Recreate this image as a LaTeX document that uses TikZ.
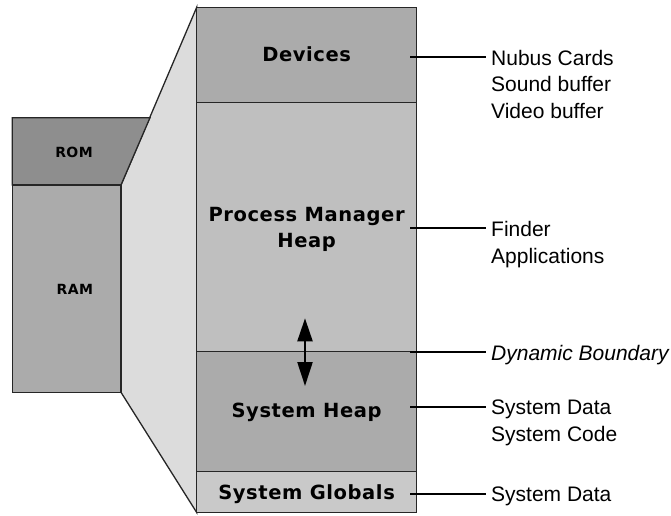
\documentclass[tikz,border=0pt]{standalone}
\usepackage{fontspec}
\setmainfont{Liberation Sans}
\newfontfamily\chifont[LetterSpace=3]{DejaVu Sans Bold}
\usetikzlibrary{arrows.meta}

\definecolor{romgray}{HTML}{8E8E8E}
\definecolor{midgray}{HTML}{ABABAB}
\definecolor{pmgray}{HTML}{BFBFBF}
\definecolor{globgray}{HTML}{C9C9C9}
\definecolor{funnel}{HTML}{DCDCDC}
\definecolor{edgecol}{HTML}{262626}

\begin{document}
\begin{tikzpicture}[x=1pt,y=-1pt,
  region/.style={draw=edgecol,line width=1.3pt,line join=miter},
  memtext/.style={font=\chifont\fontsize{19.5}{22}\selectfont,inner sep=0pt,
    text height=14.2pt,text depth=0pt,anchor=center},
  smalltext/.style={font=\chifont\fontsize{14}{16}\selectfont,inner sep=0pt,
    text height=10.2pt,text depth=0pt,anchor=center},
  lbl/.style={font=\fontsize{21}{26}\selectfont,anchor=west,inner sep=0pt,
    text height=15pt,text depth=0pt},
  leader/.style={draw=black,line width=2pt}]
\useasboundingbox (0,0) rectangle (671,515);

% funnel joining the RAM block to the enlarged memory map
\path[region,fill=funnel] (121,185) -- (196.7,7.3) -- (196.7,512.5) -- (121,392.3) -- cycle;

% ROM / RAM column
\path[region,fill=romgray] (12.3,117.7) -- (150,117.7) -- (121,185) -- (12.3,185) -- cycle;
\path[region,fill=midgray] (12.3,185) rectangle (121,392.3);

% enlarged memory map
\path[region,fill=midgray] (196.7,7.3) rectangle (416.5,102.7);
\path[region,fill=pmgray] (196.7,102.7) rectangle (416.5,351.7);
\path[region,fill=midgray] (196.7,351.7) rectangle (416.5,471.7);
\path[region,fill=globgray] (196.7,471.7) rectangle (416.5,512.5);

\node[smalltext] (rom) at (74,152.5) {ROM};
\node[smalltext] (ram) at (74.8,289) {RAM};

\node[memtext] (devices) at (306.6,54.2) {Devices};
\node[memtext] (pmh1) at (306.6,214) {Process Manager};
\node[memtext] (pmh2) at (306.6,240) {Heap};
\node[memtext] (sysheap) at (306.6,410.5) {System Heap};
\node[memtext] (sysglob) at (306.6,492.5) {System Globals};

% movable boundary between the two heaps
\coordinate (arrTop) at (305,318.3);
\coordinate (arrBot) at (305,386);
\draw[line width=2.2pt,{Triangle[width=15pt,length=23pt]}-{Triangle[width=15pt,length=24pt]}]
  (arrTop) -- (arrBot);

% right-hand labels
\node[lbl] (nubus) at (491,57.5) {Nubus Cards};
\node[lbl] (sound) at (491,84) {Sound buffer};
\node[lbl] (video) at (491,110.5) {Video buffer};
\node[lbl] (finder) at (491,228.5) {Finder};
\node[lbl] (apps) at (491,255.5) {Applications};
\node[lbl,font=\fontsize{21}{26}\selectfont\itshape] (dynb) at (491,352.5) {Dynamic Boundary};
\node[lbl] (sdata) at (491,407) {System Data};
\node[lbl] (scode) at (491,433.5) {System Code};
\node[lbl] (gdata) at (491,494) {System Data};

% leader lines from the map to the labels
\coordinate (devR) at (410,57.3);
\coordinate (pmhR) at (410,227.7);
\coordinate (dynR) at (410,352);
\coordinate (shR) at (410,406.7);
\coordinate (sgR) at (410,494);
\draw[leader] (devR) -- ([xshift=-5pt]devR -| nubus.west);
\draw[leader] (pmhR) -- ([xshift=-5pt]pmhR -| finder.west);
\draw[leader] (dynR) -- ([xshift=-5pt]dynR -| dynb.west);
\draw[leader] (shR) -- ([xshift=-5pt]shR -| sdata.west);
\draw[leader] (sgR) -- ([xshift=-5pt]sgR -| gdata.west);
\end{tikzpicture}
\end{document}
